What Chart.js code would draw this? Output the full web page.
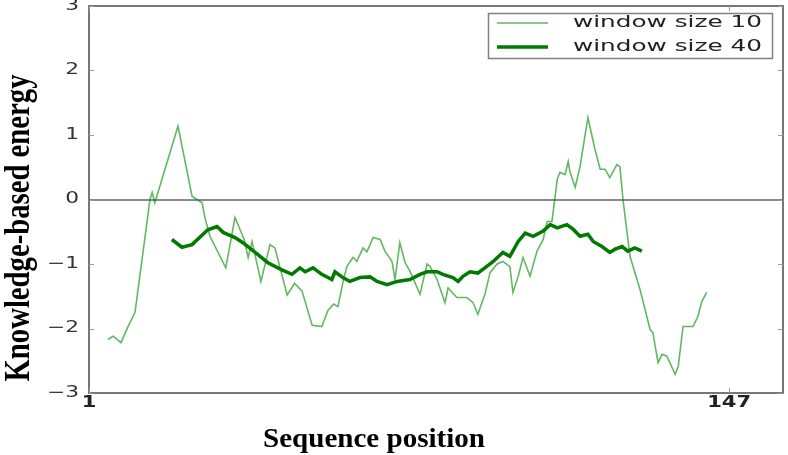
<!DOCTYPE html>
<html>
<head>
<meta charset="utf-8">
<script src="https://cdn.jsdelivr.net/npm/chart.js@4.4.0/dist/chart.umd.min.js"></script>
<style>
    html, body { margin: 0; padding: 0; background: #ffffff; }
    #contenitore { width: 788px; height: 455px; }
</style>
</head>
<body>
<div id="contenitore"><canvas id="grafico" width="788" height="455"></canvas></div>
<script>

// Dati

const seriesLabels = ['window size 10', 'window size 40'];

const posW10 = [
    5.3, 6.5, 8.3, 9.9, 11.5, 13.8, 14.9, 15.4, 16.0, 16.7, 21.3, 24.5, 26.8, 27.5, 28.6,
    32.2, 34.3, 36.4, 37.3, 38.2, 40.2, 42.3, 43.4, 46.2, 47.9, 49.6, 51.9, 54.1, 55.5,
    56.8, 57.8, 58.9, 59.8, 61.2, 62.1, 63.5, 64.4, 65.8, 67.4, 68.5, 70.1, 70.8, 71.9,
    73.1, 74.2, 76.5, 78.1, 78.8, 80.4, 82.2, 82.9, 84.9, 87.2, 88.6, 89.7, 91.3, 92.5,
    94.1, 95.4, 97.0, 97.7, 98.9, 100.0, 101.6, 103.2, 104.6, 105.5, 106.6, 107.8, 108.4,
    109.6, 110.3, 110.7, 111.9, 113.0, 114.8, 116.4, 117.6, 118.7, 119.8, 121.4, 122.1,
    122.8, 124.4, 126.7, 129.0, 129.6, 130.8, 131.7, 132.8, 134.7, 135.4, 136.5, 138.8,
    139.9, 140.8, 141.9
];
const energyW10 = [
    -2.17, -2.12, -2.22, -1.97, -1.75, -0.57, 0.00, 0.11, -0.05, 0.10, 1.14, 0.05, -0.05, -0.30, -0.57,
    -1.06, -0.28, -0.62, -0.90, -0.65, -1.27, -0.70, -0.75, -1.48, -1.30, -1.42, -1.95, -1.97, -1.72,
    -1.62, -1.66, -1.29, -1.04, -0.90, -0.96, -0.75, -0.81, -0.59, -0.62, -0.80, -0.96, -1.24, -0.67,
    -0.98, -1.11, -1.47, -1.00, -1.04, -1.24, -1.60, -1.37, -1.52, -1.52, -1.60, -1.78, -1.47, -1.13,
    -1.00, -0.96, -1.04, -1.44, -1.19, -0.90, -1.19, -0.80, -0.62, -0.34, -0.34, 0.31, 0.42,
    0.39, 0.59, 0.43, 0.19, 0.51, 1.27, 0.78, 0.47, 0.47, 0.34, 0.54, 0.51,
    0.00, -0.88, -1.40, -2.02, -2.06, -2.53, -2.40, -2.43, -2.71, -2.59, -1.97, -1.97,
    -1.81, -1.58, -1.44
];

const posW40 = [
    19.9, 22.2, 24.5, 28.1, 30.2, 31.6, 34.3, 36.1, 38.9, 41.8, 45.0, 47.3, 49.1, 50.3,
    52.1, 54.1, 56.4, 57.1, 58.9, 60.5, 62.8, 65.1, 66.7, 69.0, 71.3, 74.2, 76.5, 78.1,
    80.4, 81.7, 84.0, 85.2, 86.3, 87.9, 89.7, 91.3, 93.2, 95.4, 97.0, 98.9, 100.5, 102.3,
    104.6, 106.2, 107.8, 110.0, 111.4, 113.0, 114.8, 116.0, 118.0, 119.8, 121.0, 122.6,
    123.9, 125.5, 127.1
];
const energyW40 = [
    -0.62, -0.74, -0.70, -0.47, -0.42, -0.51, -0.59, -0.67, -0.82, -0.98, -1.09, -1.16, -1.06, -1.12,
    -1.06, -1.16, -1.24, -1.12, -1.21, -1.27, -1.21, -1.20, -1.27, -1.32, -1.27, -1.24, -1.16, -1.12,
    -1.12, -1.16, -1.21, -1.27, -1.19, -1.12, -1.14, -1.06, -0.96, -0.82, -0.88, -0.65, -0.52, -0.57,
    -0.49, -0.39, -0.44, -0.39, -0.46, -0.57, -0.54, -0.65, -0.73, -0.82, -0.77, -0.73,
    -0.80, -0.75, -0.80
];

const xTicks = [1, 147];
const yTicks = [-3, -2, -1, 0, 1, 2, 3];

const coloreSottile = 'rgba(0, 140, 0, 0.62)';
const coloreSpesso = '#007a00';


// testo allungato in orizzontale (la figura originale era stirata)
function testoStirato(ctx, testo, x, y, larghezza, allineamento) {
    const w = ctx.measureText(testo).width;
    const sx = larghezza / w;
    ctx.save();
    ctx.translate(x, y);
    ctx.scale(sx, 1);
    ctx.textAlign = allineamento;
    ctx.fillText(testo, 0, 0);
    ctx.restore();
}

const decorazioni = {
    id: 'decorazioni',
    afterDatasetsDraw(chart) {
        const ctx = chart.ctx;
        const area = chart.chartArea;
        const sx = chart.scales.x;
        const sy = chart.scales.y;

        ctx.save();

        // cornice del grafico
        ctx.strokeStyle = '#777777';
        ctx.lineWidth = 2;
        ctx.strokeRect(area.left, area.top, area.right - area.left, area.bottom - area.top);

        // tacche interne
        ctx.lineWidth = 1;
        ctx.strokeStyle = '#999999';
        ctx.beginPath();
        yTicks.forEach(v => {
            const py = Math.round(sy.getPixelForValue(v)) + 0.5;
            ctx.moveTo(area.left, py); ctx.lineTo(area.left + 5, py);
            ctx.moveTo(area.right, py); ctx.lineTo(area.right - 5, py);
        });
        xTicks.forEach(v => {
            const px = Math.round(sx.getPixelForValue(v)) + 0.5;
            ctx.moveTo(px, area.bottom); ctx.lineTo(px, area.bottom - 5);
            ctx.moveTo(px, area.top); ctx.lineTo(px, area.top + 5);
        });
        ctx.stroke();

        // etichette asse y
        ctx.fillStyle = '#333333';
        ctx.font = '15px "DejaVu Sans"';
        ctx.textBaseline = 'middle';
        yTicks.forEach(v => {
            const t = v < 0 ? '\u2212' + Math.abs(v) : String(v);
            const w = ctx.measureText(t).width * 1.45;
            testoStirato(ctx, t, 79, sy.getPixelForValue(v), w, 'right');
        });

        // etichette asse x
        ctx.fillStyle = '#222222';
        ctx.font = 'bold 15px "DejaVu Sans"';
        ctx.textBaseline = 'middle';
        xTicks.forEach(v => {
            const t = String(v);
            const w = ctx.measureText(t).width * 1.4;
            testoStirato(ctx, t, sx.getPixelForValue(v), 403, w, 'center');
        });

        // titoli degli assi
        ctx.fillStyle = '#000000';
        ctx.font = 'bold 28px "Liberation Serif"';
        ctx.textBaseline = 'alphabetic';
        testoStirato(ctx, 'Sequence position', 374, 447, 222, 'center');

        ctx.save();
        ctx.translate(29, 228);
        ctx.rotate(-Math.PI / 2);
        ctx.scale(1, 1.3);
        testoStirato(ctx, 'Knowledge-based energy', 0, 0, 307, 'center');
        ctx.restore();

        // legenda
        ctx.fillStyle = '#ffffff';
        ctx.fillRect(488, 13, 284, 45);
        ctx.strokeStyle = '#808080';
        ctx.lineWidth = 1.5;
        ctx.strokeRect(488.5, 13.5, 284, 45);

        const righe = [
            { y: 23, colore: coloreSottile, spessore: 1.6 },
            { y: 47, colore: coloreSpesso, spessore: 3.5 }
        ];
        righe.forEach((r, i) => {
            ctx.strokeStyle = r.colore;
            ctx.lineWidth = r.spessore;
            ctx.beginPath();
            ctx.moveTo(497, r.y);
            ctx.lineTo(548, r.y);
            ctx.stroke();

            ctx.fillStyle = '#222222';
            ctx.font = '15px "DejaVu Sans"';
            ctx.textBaseline = 'middle';
            testoStirato(ctx, seriesLabels[i], 573, r.y, 189, 'left');
        });

        ctx.restore();
    }
};

const ctx = document.getElementById('grafico').getContext('2d');
const myChart = new Chart(ctx, {
    type: 'line',
    data: {
        datasets: [
            {
                label: seriesLabels[0],
                data: posW10.map((p, i) => ({ x: p, y: energyW10[i] })),
                borderColor: coloreSottile,
                borderWidth: 1.6,
                pointRadius: 0,
                tension: 0,
                fill: false,
                order: 1
            },
            {
                label: seriesLabels[1],
                data: posW40.map((p, i) => ({ x: p, y: energyW40[i] })),
                borderColor: coloreSpesso,
                borderWidth: 3.5,
                pointRadius: 0,
                tension: 0,
                fill: false,
                order: 0
            }
        ]
    },
    options: {
        responsive: false,
        animation: false,
        devicePixelRatio: 1,
        layout: { padding: { top: 6, right: 5, left: 0, bottom: 0 } },
        plugins: {
            legend: { display: false },
            tooltip: { enabled: false }
        },
        scales: {
            x: {
                type: 'linear',
                min: 1,
                max: 159.3,
                ticks: { display: false },
                grid: { display: false },
                border: { display: false },
                afterBuildTicks: s => { s.ticks = xTicks.map(v => ({ value: v })); },
                afterFit: s => { s.height = 62; }
            },
            y: {
                min: -3,
                max: 3,
                ticks: { display: false },
                grid: {
                    drawTicks: false,
                    lineWidth: 2,
                    color: c => (c.tick && c.tick.value === 0) ? '#8a8a8a' : 'rgba(0,0,0,0)'
                },
                border: { display: false },
                afterBuildTicks: s => { s.ticks = yTicks.map(v => ({ value: v })); },
                afterFit: s => { s.width = 89; }
            }
        }
    },
    plugins: [decorazioni]
});

</script>
</body>
</html>
